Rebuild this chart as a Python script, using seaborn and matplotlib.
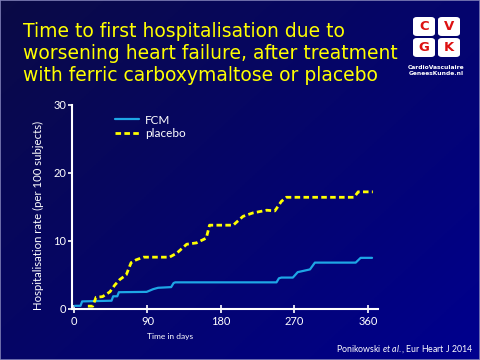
import numpy as np
import pandas as pd
import seaborn as sns
import matplotlib.pyplot as plt
from matplotlib.patches import FancyBboxPatch, Rectangle

# data (days, hospitalisations per 100 subjects)
fcm_days = [1, 8, 10, 46, 48, 53, 55, 89, 97, 103, 119, 122, 124, 248, 251, 254,
            268, 274, 289, 295, 345, 351, 365]
fcm_rate = [0.45, 0.45, 1.1, 1.2, 1.85, 1.85, 2.45, 2.5, 2.9, 3.1, 3.2, 3.8, 3.9,
            3.9, 4.5, 4.6, 4.6, 5.4, 5.8, 6.8, 6.8, 7.5, 7.5]
placebo_days = [17, 23, 27, 35, 44, 50, 56, 64, 70, 76, 85, 100, 117, 126, 138, 150,
                162, 166, 195, 207, 219, 236, 246, 254, 260, 343, 348, 366]
placebo_rate = [0.4, 0.4, 1.7, 1.8, 2.5, 3.5, 4.3, 5.0, 6.8, 7.2, 7.6, 7.6, 7.6, 8.2,
                9.5, 9.7, 10.4, 12.3, 12.3, 13.6, 14.1, 14.5, 14.4, 15.8, 16.4, 16.4,
                17.2, 17.2]
x_ticks = [0, 90, 180, 270, 360]
y_ticks = [0, 10, 20, 30]

title = ("Time to first hospitalisation due to\n"
         "worsening heart failure, after treatment\n"
         "with ferric carboxymaltose or placebo")

sns.set_style("ticks")
plt.rcParams['font.family'] = ['DejaVu Sans']
# italic "et al." in the same face as the rest of the citation
plt.rcParams['mathtext.fontset'] = 'custom'
plt.rcParams['mathtext.rm'] = 'Lato'
plt.rcParams['mathtext.it'] = 'Lato:italic'

fig = plt.figure(figsize=(4.8, 3.6), dpi=100)

# dark blue slide background, darker top-left, brighter bottom-right
bg = fig.add_axes([0, 0, 1, 1], zorder=-10)
gx, gy = np.meshgrid(np.linspace(0, 1, 200), np.linspace(0, 1, 150))
t = np.clip(0.55 * gx + 0.45 * gy, 0, 1)[..., None]
dark = np.array([0.04, 0.04, 0.27])
light = np.array([0.0, 0.0, 0.56])
bg.imshow(dark * (1 - t) + light * t, aspect='auto', extent=[0, 1, 0, 1], origin='upper')
bg.axis('off')

ax = fig.add_axes([0.149, 0.142, 0.638, 0.567])
ax.set_facecolor('none')

df_fcm = pd.DataFrame({'day': fcm_days, 'rate': fcm_rate})
df_pla = pd.DataFrame({'day': placebo_days, 'rate': placebo_rate})
sns.lineplot(data=df_fcm, x='day', y='rate', ax=ax, color='#1ea6e6', lw=1.6,
             estimator=None, label='FCM')
sns.lineplot(data=df_pla, x='day', y='rate', ax=ax, color='#ffff00', lw=2,
             estimator=None, label='placebo')
ax.lines[1].set_dashes((2, 1.2))

ax.set_xlim(-3, 372)
ax.set_ylim(0, 30)
ax.set_xticks(x_ticks)
ax.set_yticks(y_ticks)
ax.set_xlabel('')
ax.set_ylabel('Hospitalisation rate (per 100 subjects)', color='white',
              fontsize=8.2, family='Lato')
ax.yaxis.set_label_coords(-0.09, 0.46)
for s in ['top', 'right']:
    ax.spines[s].set_visible(False)
for s in ['left', 'bottom']:
    ax.spines[s].set_color('white')
    ax.spines[s].set_linewidth(1.5)
ax.tick_params(axis='x', colors='white', direction='inout', length=6, width=1.2,
               labelsize=8, pad=2)
ax.tick_params(axis='y', colors='white', direction='out', length=3, width=1.2,
               labelsize=8, pad=1)
for lab in ax.get_xticklabels() + ax.get_yticklabels():
    lab.set_family('Lato')

leg = ax.legend(loc='upper left', bbox_to_anchor=(0.127, 0.975), frameon=False,
                prop={'family': 'Lato', 'size': 8.5}, labelcolor='white',
                handlelength=2.0, handletextpad=0.5, borderaxespad=0, labelspacing=0.2)

fig.text(0.354, 0.064, 'Time in days', color='white', fontsize=6, family='Lato',
         ha='center', va='center')

fig.text(0.048, 0.94, title, color='#ffff00', fontsize=13.5, va='top', ha='left',
         linespacing=1.2)

fig.text(0.987, 0.03, r'Ponikowski $\it{et\ al.}$, Eur Heart J 2014', color='white',
         fontsize=6.3, family='Lato', ha='right', va='center')

# CVGK logo
letters = ['C', 'V', 'G', 'K']
pos = [(413, 17), (438, 17), (413, 38), (438, 38)]
for ch, (px, py) in zip(letters, pos):
    x0, y0 = px / 480, 1 - (py + 19) / 360
    fig.patches.append(FancyBboxPatch((x0, y0), 22 / 480, 19 / 360,
                                      boxstyle='round,pad=0,rounding_size=0.008',
                                      transform=fig.transFigure, fc='white', ec='none'))
    fig.text(x0 + 11 / 480, y0 + 9.5 / 360, ch, color='#dd1111', fontsize=9.5,
             fontweight='bold', ha='center', va='center')
fig.text(436.5 / 480, 1 - 70.5 / 360, 'CardioVasculaire\nGeneesKunde.nl', color='white',
         fontsize=4.3, fontweight='bold', ha='center', va='center', linespacing=1.2,
         family='Liberation Sans Narrow')

# thin light frame round the slide
fig.patches.append(Rectangle((0, 0), 1, 1, transform=fig.transFigure, fill=False,
                             ec='#8080b8', lw=1.2))

fig.savefig('out.png', dpi=100, facecolor='#000066')
